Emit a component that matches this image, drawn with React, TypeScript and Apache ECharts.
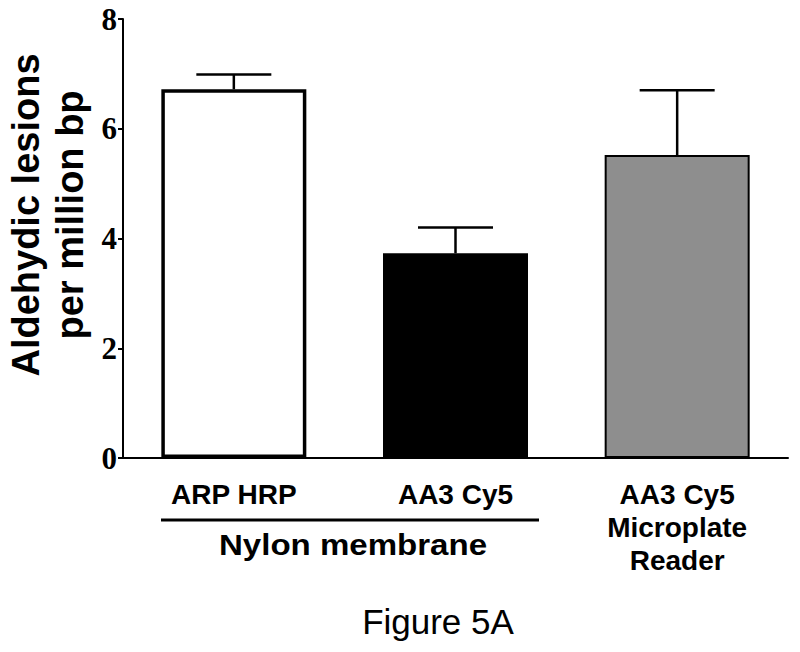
import React, { useEffect, useRef } from "react";
import * as echarts from "echarts";

const categories = ["ARP HRP", "AA3 Cy5", "AA3 Cy5\nMicroplate\nReader"];
const means = [6.72, 3.73, 5.52];
const errors = [0.27, 0.47, 1.18];
const barFills = ["#ffffff", "#000000", "#8e8e8e"];
const yTicks = [0, 2, 4, 6, 8];
const yTitle = "Aldehydic lesions\nper million bp";
const groupLabel = "Nylon membrane";
const caption = "Figure 5A";

const SANS = "'Liberation Sans', Arial, Helvetica, sans-serif";
const SERIF = "'Liberation Serif', 'Times New Roman', serif";

export default function App() {
  const ref = useRef<HTMLDivElement>(null);
  useEffect(() => {
    document.body.style.margin = "0";
    if (!ref.current) return;
    const chart = echarts.init(ref.current, null, { renderer: "svg" });
    const borderWidths = [3.5, 0, 2];
    chart.setOption({
      animation: false,
      backgroundColor: "#ffffff",
      grid: { left: 123, right: 12, top: 19, bottom: 194, containLabel: false },
      xAxis: {
        type: "category",
        data: categories,
        axisLine: { show: true, lineStyle: { color: "#000", width: 2 } },
        axisTick: { show: false },
        axisLabel: {
          margin: 20,
          color: "#000",
          fontFamily: SANS,
          fontWeight: "bold",
          fontSize: 28,
          lineHeight: 33,
          interval: 0,
        },
      },
      yAxis: {
        type: "value",
        min: yTicks[0],
        max: yTicks[yTicks.length - 1],
        interval: 2,
        splitLine: { show: false },
        axisLine: { show: true, lineStyle: { color: "#000", width: 2 } },
        axisTick: { show: true, length: 5, lineStyle: { color: "#000", width: 2 } },
        axisLabel: {
          margin: 6,
          color: "#000",
          fontFamily: SERIF,
          fontWeight: "bold",
          fontSize: 31,
        },
      },
      series: [
        {
          type: "bar",
          barWidth: 145,
          data: means.map((v, i) => ({
            value: v,
            itemStyle: {
              color: barFills[i],
              borderColor: "#000",
              borderWidth: borderWidths[i],
            },
          })),
          z: 2,
        },
        {
          type: "custom",
          z: 3,
          data: means.map((v, i) => [i, v, v + errors[i]]),
          renderItem: (params: any, api: any) => {
            const p0 = api.coord([api.value(0), api.value(1)]);
            const p1 = api.coord([api.value(0), api.value(2)]);
            const half = 37.5;
            const st = { stroke: "#000", lineWidth: 2.5 };
            return {
              type: "group",
              children: [
                { type: "line", shape: { x1: p0[0], y1: p0[1], x2: p1[0], y2: p1[1] }, style: st },
                { type: "line", shape: { x1: p1[0] - half, y1: p1[1], x2: p1[0] + half, y2: p1[1] }, style: st },
              ],
            };
          },
        },
      ],
      graphic: [
        {
          type: "text",
          x: 48,
          y: 215,
          rotation: Math.PI / 2,
          style: {
            text: yTitle,
            fontFamily: SANS,
            fontWeight: "bold",
            fontSize: 38,
            lineHeight: 44,
            textAlign: "center",
            textVerticalAlign: "middle",
            fill: "#000",
          },
        },
        {
          type: "line",
          shape: { x1: 161, y1: 520, x2: 539, y2: 520 },
          style: { stroke: "#000", lineWidth: 3 },
        },
        {
          type: "text",
          x: 353,
          y: 545,
          scaleX: 1.14,
          style: {
            text: groupLabel,
            fontFamily: SANS,
            fontWeight: "bold",
            fontSize: 29,
            textAlign: "center",
            textVerticalAlign: "middle",
            fill: "#000",
          },
        },
        {
          type: "text",
          x: 438,
          y: 621,
          style: {
            text: caption,
            fontFamily: SANS,
            fontWeight: "normal",
            fontSize: 35,
            textAlign: "center",
            textVerticalAlign: "middle",
            fill: "#000",
          },
        },
      ],
    });
    return () => chart.dispose();
  }, []);
  return <div ref={ref} style={{ width: 800, height: 652 }} />;
}
